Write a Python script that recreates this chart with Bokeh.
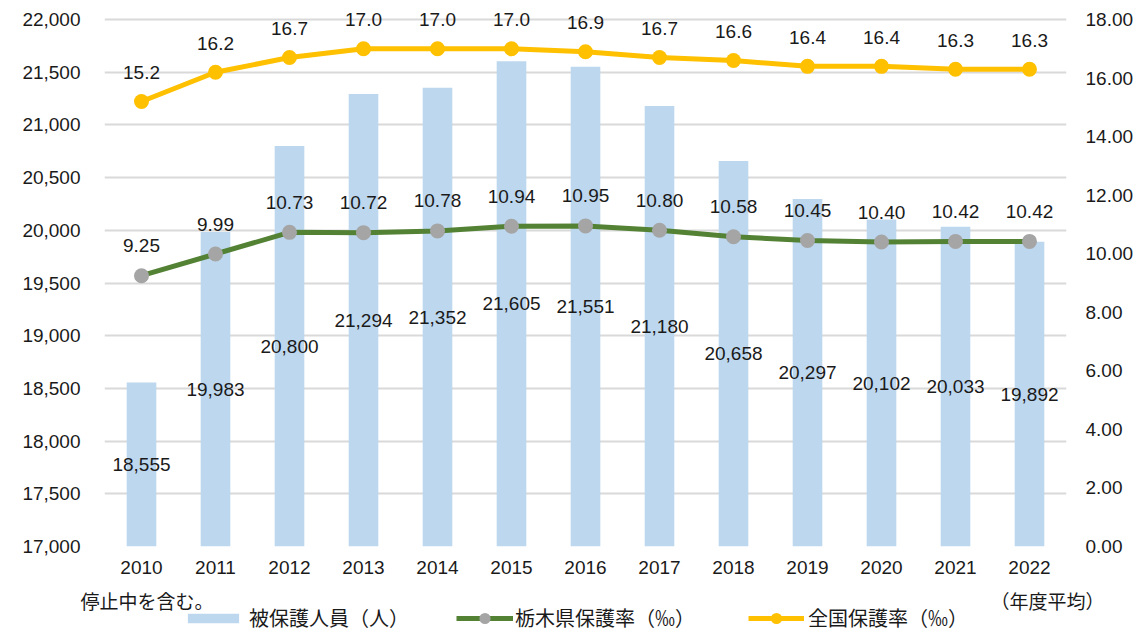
from bokeh.plotting import figure
from bokeh.layouts import column, row
from bokeh.models import (ColumnDataSource, FactorRange, Range1d, LinearAxis,
                          FixedTicker, NumeralTickFormatter, LabelSet,
                          Label, Legend, LegendItem)
from bokeh.embed import file_html
from bokeh.resources import INLINE
from bokeh.core.properties import value

years = ["2010", "2011", "2012", "2013", "2014", "2015", "2016",
         "2017", "2018", "2019", "2020", "2021", "2022"]
recipients = [18555, 19983, 20800, 21294, 21352, 21605, 21551,
              21180, 20658, 20297, 20102, 20033, 19892]
tochigi_rate = [9.25, 9.99, 10.73, 10.72, 10.78, 10.94, 10.95,
                10.80, 10.58, 10.45, 10.40, 10.42, 10.42]
national_rate = [15.2, 16.2, 16.7, 17.0, 17.0, 17.0, 16.9,
                 16.7, 16.6, 16.4, 16.4, 16.3, 16.3]
left_ticks = [17000, 17500, 18000, 18500, 19000, 19500,
              20000, 20500, 21000, 21500, 22000]
right_ticks = [0, 2, 4, 6, 8, 10, 12, 14, 16, 18]

legend_labels = ["被保護人員（人）", "栃木県保護率（‰）", "全国保護率（‰）"]
note_left = "停止中を含む。"
note_right = "（年度平均）"

BAR = "#BDD7EE"
GREEN = "#548235"
GRAY = "#A5A5A5"
YELLOW = "#FFC000"
GRID = "#D9D9D9"
TXT = "#1a1a1a"
NUM_FONT = "Liberation Sans"
JP_FONT = "Noto Sans CJK JP"
FS = "19px"

W = 1147
H_MAIN = 588
H_FOOT = 44
FRAME_H = 527          # pixel height between lowest and highest gridline
TOP_PAD = 12           # extra room above top gridline for data labels
pad = TOP_PAD / FRAME_H

src = ColumnDataSource(dict(
    year=years,
    n=recipients,
    n_label=[f"{v:,}" for v in recipients],
    n_mid=[(left_ticks[0] + v) / 2 for v in recipients],
    t=tochigi_rate,
    t_label=[f"{v:.2f}" for v in tochigi_rate],
    a=national_rate,
    a_label=[f"{v:.1f}" for v in national_rate],
))

lo, hi = left_ticks[0], left_ticks[-1]
rlo, rhi = right_ticks[0], right_ticks[-1]

p = figure(x_range=FactorRange(*years),
           y_range=Range1d(lo, hi + (hi - lo) * pad),
           width=W, height=H_MAIN, output_backend="svg",
           toolbar_location=None,
           min_border_left=104, min_border_right=81,
           min_border_top=19 - TOP_PAD, min_border_bottom=H_MAIN - 546)
p.outline_line_color = None
p.background_fill_color = "white"
p.border_fill_color = "white"
p.extra_y_ranges = {"rate": Range1d(rlo, rhi + (rhi - rlo) * pad)}


def draw_series(fig, visible=True):
    b = fig.vbar(x="year", top="n", bottom=lo, width=0.4, source=src,
                 fill_color=BAR, line_color=None, visible=visible)
    g1 = fig.line(x="year", y="t", source=src, y_range_name="rate",
                  line_color=GREEN, line_width=5, visible=visible)
    g2 = fig.scatter(x="year", y="t", source=src, y_range_name="rate",
                     size=15, fill_color=GRAY, line_color=None, visible=visible)
    y1 = fig.line(x="year", y="a", source=src, y_range_name="rate",
                  line_color=YELLOW, line_width=5, visible=visible)
    y2 = fig.scatter(x="year", y="a", source=src, y_range_name="rate",
                     size=15, fill_color=YELLOW, line_color=None, visible=visible)
    return b, g1, g2, y1, y2


draw_series(p)

common = dict(source=src, text_align="center", text_baseline="middle",
              text_font=value(NUM_FONT), text_font_size=FS, text_color=TXT)
p.add_layout(LabelSet(x="year", y="n_mid", text="n_label", **common))
p.add_layout(LabelSet(x="year", y="t", text="t_label", y_range_name="rate",
                      y_offset=30, **common))
p.add_layout(LabelSet(x="year", y="a", text="a_label", y_range_name="rate",
                      y_offset=29, **common))

p.yaxis.ticker = FixedTicker(ticks=left_ticks)
p.yaxis.formatter = NumeralTickFormatter(format="0,0")
right = LinearAxis(y_range_name="rate",
                   ticker=FixedTicker(ticks=right_ticks),
                   formatter=NumeralTickFormatter(format="0.00"))
p.add_layout(right, "right")

for ax in [p.yaxis[0], right, p.xaxis[0]]:
    ax.axis_line_color = None
    ax.major_tick_line_color = None
    ax.minor_tick_line_color = None
    ax.major_tick_out = 0
    ax.major_tick_in = 0
    ax.minor_tick_out = 0
    ax.major_label_text_font = NUM_FONT
    ax.major_label_text_font_size = FS
    ax.major_label_text_color = TXT
p.yaxis[0].major_label_standoff = 24
right.major_label_standoff = 19
p.xaxis[0].major_label_standoff = 14

p.xgrid.grid_line_color = None
p.ygrid.grid_line_color = GRID
p.ygrid.grid_line_width = 2

# footer: notes and legend (legend keys come from hidden copies of the series)
f = figure(width=W, height=H_FOOT, output_backend="svg", toolbar_location=None,
           x_range=FactorRange(*years), y_range=Range1d(lo, hi),
           x_axis_type=None, y_axis_type=None,
           min_border_left=0, min_border_right=0,
           min_border_top=0, min_border_bottom=0)
f.extra_y_ranges = {"rate": Range1d(rlo, rhi)}
f.outline_line_color = None
f.xgrid.grid_line_color = None
f.ygrid.grid_line_color = None
kb, kgl, kgp, kyl, kyp = draw_series(f, visible=False)


def make_legend(label, renderers, x, standoff, gw, gh):
    lg = Legend(items=[LegendItem(label=label, renderers=renderers)],
                location=(x, 0), orientation="horizontal",
                padding=0, margin=0, spacing=0,
                label_standoff=standoff, glyph_width=gw, glyph_height=gh,
                label_text_font=JP_FONT, label_text_font_size="20px",
                label_text_color=TXT, inactive_fill_alpha=0,
                click_policy="none",
                border_line_color=None, background_fill_alpha=0)
    f.add_layout(lg, "center")


make_legend(legend_labels[0], [kb], 181, 4, 64, 12)
make_legend(legend_labels[1], [kgl, kgp], 456, 2, 57, 28)
make_legend(legend_labels[2], [kyl, kyp], 748, 4, 56, 28)

for txt, x in [(note_left, 80), (note_right, 990)]:
    f.add_layout(Label(x=x, y=H_FOOT - 12, x_units="screen", y_units="screen",
                       text=txt, text_font=JP_FONT, text_font_size="19px",
                       text_color=TXT, text_baseline="middle",
                       text_align="left"))

open("out.html", "w").write(file_html(column(p, row(f), spacing=0), INLINE))
